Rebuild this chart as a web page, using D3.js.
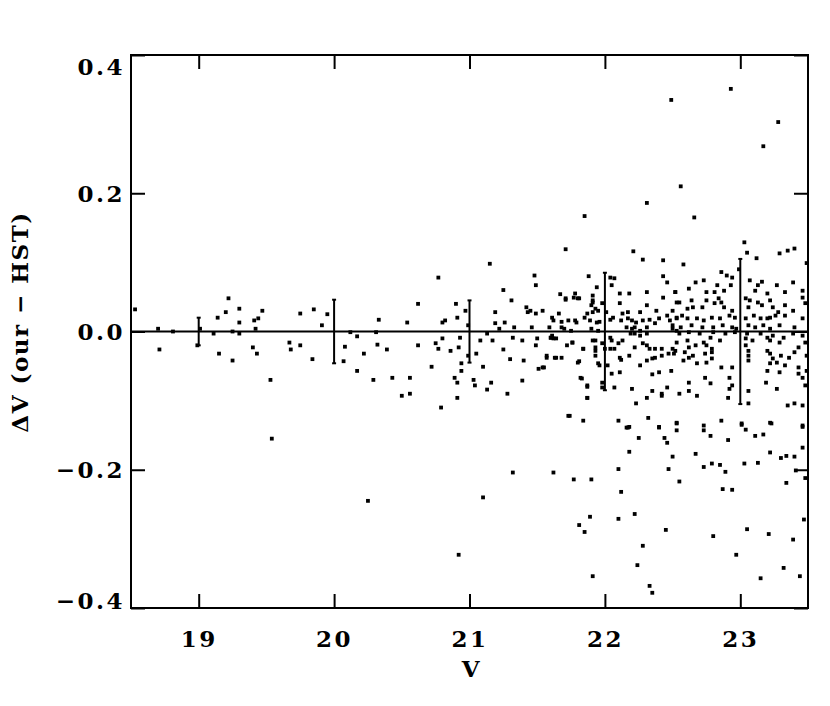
<!DOCTYPE html>
<html>
<head>
<meta charset="utf-8">
<script src="https://cdn.jsdelivr.net/npm/d3@7"></script>
<style>
  body { margin: 0; background: #fff; }
  .axis text { font-family: "DejaVu Serif", serif; font-weight: bold; font-size: 23px; letter-spacing: 2.5px; fill: #000; }
  .axis line { stroke: #000; stroke-width: 2; }
  .title { font-family: "DejaVu Serif", serif; font-weight: bold; font-size: 23px; letter-spacing: 1.5px; fill: #000; }
</style>
</head>
<body>
<svg class="chart"></svg>
<script>
const margin = {top: 55, right: 22, bottom: 98, left: 131};
const width = 830 - margin.left - margin.right;
const height = 706 - margin.top - margin.bottom;

const xTicks = [19, 20, 21, 22, 23];
const yTicks = [-0.4, -0.2, 0.0, 0.2, 0.4];

// typical errors drawn as bars on the zero line
const errV = [19, 20, 21, 22, 23];
const errSigma = [0.02, 0.046, 0.045, 0.085, 0.105];

const vBright = [18.53, 18.70, 18.71, 18.81, 19.01, 18.99, 19.11, 19.22, 19.20, 19.14, 19.15, 19.25, 19.30, 19.30, 19.25, 19.30,
  19.41, 19.44, 19.47, 19.42, 19.40, 19.43, 19.53, 19.54, 19.67, 19.68, 19.75, 19.75, 19.84, 19.85, 19.91, 19.95,
  20.08, 20.07, 20.12, 20.17, 20.17, 20.22, 20.29, 20.31, 20.32, 20.33, 20.25];
const dvBright = [0.032, 0.004, -0.026, 0.0, 0.004, -0.02, -0.003, 0.048, 0.028, 0.02, -0.032, -0.042, 0.033, 0.013, 0.0, -0.003,
  0.016, 0.019, 0.03, 0.004, -0.023, -0.032, -0.07, -0.155, -0.016, -0.026, 0.026, -0.02, -0.04, 0.032, 0.009, 0.025,
  -0.022, -0.043, -0.001, -0.007, -0.057, -0.032, -0.07, -0.001, -0.019, 0.017, -0.245];

const vMid = [20.39, 20.43, 20.50, 20.56, 20.56, 20.54, 20.62, 20.62, 20.72, 20.77, 20.79, 20.80, 20.82, 20.75, 20.77, 20.80,
  20.86, 20.91, 20.90, 20.93, 20.92, 20.94, 20.94, 20.89, 20.91, 20.91, 20.97, 20.99, 20.99, 21.03, 21.04, 21.05,
  21.08, 21.10, 21.13, 21.13, 21.15, 21.16, 21.17, 21.19, 21.19, 21.22, 21.25, 21.25, 21.26, 21.28, 21.30, 21.31,
  21.32, 21.33, 21.39, 21.39, 21.40, 21.42, 21.43, 21.45, 21.46, 21.48, 21.49, 21.49, 21.50, 21.51, 21.49, 21.55,
  21.57, 21.60, 21.62, 21.64, 21.68, 21.71, 21.72, 21.74, 21.76, 21.77, 21.78, 21.80, 21.81, 21.82, 21.87, 21.87,
  21.84, 21.91, 21.91, 21.94, 21.95, 21.91, 20.92, 21.10];
const dvMid = [-0.026, -0.067, -0.093, -0.067, -0.09, 0.013, 0.04, -0.02, -0.051, 0.078, -0.11, 0.013, 0.016, -0.017, -0.025, -0.01,
  -0.028, 0.02, 0.04, -0.009, -0.023, -0.046, -0.057, -0.067, -0.074, -0.096, 0.03, 0.009, -0.035, -0.07, -0.078, -0.032,
  -0.013, -0.051, -0.003, -0.084, 0.098, -0.074, -0.013, 0.028, 0.012, 0.004, 0.06, -0.026, 0.013, -0.09, -0.04, 0.045,
  -0.009, 0.006, -0.071, -0.013, -0.042, 0.035, 0.028, 0.03, 0.006, 0.081, 0.067, 0.026, -0.01, -0.054, -0.02, -0.052,
  -0.038, -0.009, -0.01, -0.038, 0.006, 0.046, -0.02, -0.122, -0.016, 0.049, 0.016, 0.048, -0.043, -0.067, -0.08, -0.096,
  -0.025, 0.045, 0.028, 0.013, -0.046, -0.013, -0.323, -0.24];

const v22 = [21.71, 22.21, 22.28, 22.43, 21.88, 22.04, 22.07, 22.43, 22.46, 21.94, 22.05, 22.11, 22.18, 22.31, 22.52,
  21.67, 21.71, 21.78, 21.81, 21.91, 21.91, 21.98, 22.11, 22.43, 22.53, 21.90, 21.93, 21.95, 21.54, 21.61, 21.66,
  22.01, 22.13, 22.17, 22.26, 22.31, 22.38, 22.46, 21.87, 21.62, 21.68, 21.73, 21.79, 21.85, 21.89, 21.96, 22.04,
  22.06, 22.12, 22.17, 22.20, 22.23, 22.28, 22.33, 22.37, 22.40, 22.48, 22.53, 21.59, 21.70, 21.75, 21.90, 21.95,
  22.16, 22.20, 22.22, 22.26, 22.31, 22.19, 22.22, 22.26, 22.31, 22.50, 22.53, 21.61, 21.64, 21.60, 21.76, 21.84,
  21.93, 21.93, 22.04, 22.05, 21.98, 22.00, 22.04, 22.07, 22.10, 22.13, 22.22, 22.28, 22.31, 22.33, 22.37, 22.42,
  22.47, 22.52, 21.57, 21.63, 21.68, 21.54, 21.80, 21.93, 21.93, 22.11, 22.12, 22.18, 22.26, 22.31, 22.35, 22.37,
  22.42, 21.96, 22.02, 22.05, 22.11, 22.35, 22.40, 21.83, 21.98, 21.98, 21.87, 22.07, 22.20, 22.35, 22.42, 22.46,
  21.87, 22.31, 22.42, 22.23, 21.73, 21.84, 22.10, 22.17, 22.32, 22.40, 22.53];
const dv22 = [0.119, 0.116, 0.104, 0.103, 0.08, 0.078, 0.077, 0.08, 0.071, 0.064, 0.067, 0.055, 0.055, 0.057, 0.057,
  0.054, 0.048, 0.055, 0.048, 0.052, 0.042, 0.041, 0.041, 0.049, 0.042, 0.038, 0.033, 0.03, 0.03, 0.02, 0.026,
  0.028, 0.026, 0.028, 0.028, 0.038, 0.03, 0.023, 0.026, 0.016, 0.014, 0.016, 0.013, 0.02, 0.016, 0.014, 0.017,
  0.02, 0.016, 0.019, 0.016, 0.013, 0.016, 0.017, 0.012, 0.019, 0.016, 0.019, 0.006, 0.004, 0.001, 0.004, 0.001,
  0.006, 0.004, 0.006, 0.001, 0.006, -0.003, -0.003, -0.006, -0.003, 0.004, 0.001, -0.006, -0.01, -0.009, -0.016, -0.025,
  -0.013, -0.023, -0.009, -0.013, -0.017, -0.025, -0.025, -0.025, -0.017, -0.013, -0.023, -0.017, -0.02, -0.025, -0.025, -0.025,
  -0.032, -0.028, -0.035, -0.038, -0.038, -0.052, -0.045, -0.028, -0.035, -0.038, -0.041, -0.035, -0.049, -0.042, -0.039, -0.038,
  -0.035, -0.049, -0.049, -0.061, -0.059, -0.062, -0.059, -0.068, -0.074, -0.081, -0.078, -0.081, -0.083, -0.086, -0.09, -0.081,
  -0.096, -0.096, -0.093, -0.104, -0.122, -0.129, -0.129, -0.139, -0.125, -0.139, -0.133];

const v23 = [23.03, 23.05, 23.12, 23.29, 23.35, 23.40, 23.49, 22.58, 22.86, 22.90, 22.94, 22.99, 22.73, 22.67, 22.83,
  23.07, 23.16, 23.13, 23.27, 23.39, 23.46, 22.52, 22.62, 22.75, 22.81, 22.88, 22.93, 23.11, 23.20, 23.33, 23.46,
  22.55, 22.64, 22.75, 22.84, 22.86, 23.04, 23.07, 23.13, 23.22, 22.50, 22.61, 22.65, 22.72, 22.81, 22.88, 22.94,
  23.06, 23.16, 23.24, 23.28, 23.33, 23.39, 23.48, 22.53, 22.57, 22.61, 22.68, 22.73, 22.79, 22.85, 22.92, 22.96,
  23.04, 23.10, 23.15, 23.20, 23.22, 23.26, 23.33, 23.46, 22.50, 22.56, 22.64, 22.72, 22.80, 22.87, 22.94, 22.97,
  23.06, 23.11, 23.17, 23.22, 23.29, 23.40, 22.55, 22.62, 22.70, 22.80, 22.89, 22.96, 23.05, 23.15, 23.20, 23.24,
  23.32, 23.39, 23.46, 22.53, 22.61, 22.73, 22.78, 22.85, 23.04, 23.09, 23.22, 23.29, 22.50, 22.62, 22.67, 22.75,
  22.79, 23.04, 23.06, 23.43, 23.48, 22.51, 22.59, 22.65, 22.74, 22.79, 23.06, 23.20, 23.22, 23.40, 22.58, 22.62,
  22.79, 23.06, 23.24, 23.30, 23.36, 23.49, 22.68, 22.75, 22.86, 22.94, 23.22, 23.27, 23.33, 23.43, 22.49, 23.20,
  23.29, 23.43, 23.49, 22.74, 22.78, 22.92, 22.94, 23.46, 22.62, 23.19, 22.62, 22.55, 22.68, 22.92, 23.06, 23.27,
  23.48, 22.91, 23.06, 23.35, 23.40, 23.46, 22.53, 22.73, 22.86, 23.01, 23.22, 23.46];
const dv23 = [0.129, 0.114, 0.106, 0.113, 0.117, 0.12, 0.099, 0.097, 0.086, 0.081, 0.078, 0.09, 0.074, 0.071, 0.067,
  0.074, 0.072, 0.067, 0.067, 0.071, 0.059, 0.057, 0.062, 0.057, 0.057, 0.059, 0.067, 0.059, 0.055, 0.057, 0.049,
  0.042, 0.045, 0.045, 0.048, 0.042, 0.048, 0.045, 0.042, 0.045, 0.03, 0.033, 0.035, 0.035, 0.041, 0.035, 0.03,
  0.035, 0.038, 0.035, 0.028, 0.038, 0.03, 0.041, 0.02, 0.023, 0.019, 0.019, 0.016, 0.02, 0.019, 0.023, 0.02,
  0.019, 0.023, 0.019, 0.019, 0.02, 0.023, 0.023, 0.019, 0.009, 0.006, 0.009, 0.006, 0.006, 0.009, 0.006, 0.004,
  0.009, 0.006, 0.009, 0.004, 0.009, 0.006, -0.003, -0.001, -0.003, -0.001, -0.003, -0.001, -0.003, -0.003, -0.009, -0.006,
  -0.009, -0.003, -0.006, -0.016, -0.013, -0.016, -0.009, -0.013, -0.01, -0.013, -0.013, -0.016, -0.025, -0.023, -0.02, -0.02,
  -0.025, -0.02, -0.028, -0.023, -0.016, -0.032, -0.03, -0.035, -0.032, -0.03, -0.035, -0.028, -0.032, -0.03, -0.042, -0.038,
  -0.039, -0.042, -0.039, -0.035, -0.038, -0.035, -0.046, -0.045, -0.052, -0.052, -0.046, -0.045, -0.049, -0.052, -0.057, -0.057,
  -0.059, -0.061, -0.057, -0.067, -0.075, -0.067, -0.078, -0.067, -0.074, -0.074, -0.086, -0.09, -0.093, -0.083, -0.086, -0.083,
  -0.078, -0.096, -0.104, -0.107, -0.104, -0.107, -0.132, -0.136, -0.129, -0.133, -0.132, -0.136];

const vFaint = [21.32, 21.62, 21.77, 21.90, 22.16, 22.18, 22.25, 22.18, 22.10, 22.12, 21.89, 21.81, 21.85, 21.91, 22.10,
  22.22, 22.28, 22.24, 22.33, 22.35, 22.40, 22.44, 22.46, 22.50, 22.47, 22.45, 22.55, 22.53, 22.67, 22.73, 22.73,
  22.78, 22.79, 22.80, 22.85, 22.89, 22.87, 22.94, 22.91, 22.97, 23.01, 23.04, 23.03, 23.05, 23.11, 23.17, 23.13,
  23.22, 23.30, 23.34, 23.40, 23.21, 23.15, 23.34, 23.39, 23.32, 23.44, 23.46, 23.46, 23.41, 23.48, 23.47, 23.23];
const dvFaint = [-0.204, -0.204, -0.214, -0.214, -0.139, -0.138, -0.154, -0.174, -0.199, -0.232, -0.268, -0.28, -0.29, -0.354, -0.271,
  -0.264, -0.31, -0.338, -0.368, -0.378, -0.138, -0.154, -0.161, -0.181, -0.199, -0.287, -0.217, -0.143, -0.177, -0.143, -0.196,
  -0.151, -0.191, -0.296, -0.193, -0.203, -0.228, -0.229, -0.157, -0.323, -0.135, -0.142, -0.191, -0.286, -0.151, -0.149, -0.19,
  -0.175, -0.183, -0.18, -0.181, -0.293, -0.357, -0.219, -0.301, -0.342, -0.354, -0.138, -0.168, -0.201, -0.212, -0.272, -0.133];

const vHigh = [22.49, 22.93, 23.28, 23.17, 22.56, 22.31, 21.85, 22.66];
const dvHigh = [0.335, 0.351, 0.303, 0.268, 0.21, 0.186, 0.167, 0.165];

const vAll = [...vBright, ...vMid, ...v22, ...v23, ...vFaint, ...vHigh];
const dvAll = [...dvBright, ...dvMid, ...dv22, ...dv23, ...dvFaint, ...dvHigh];
const points = vAll.map((v, i) => ({v: v, dv: dvAll[i]}));

const x = d3.scaleLinear().domain([18.5, 23.5]).range([0, width]);
const y = d3.scaleLinear().domain([-0.4, 0.4]).range([height, 0]);

const svg = d3.select('.chart')
    .attr('width', 830)
    .attr('height', 706);

const chart = svg.append('g')
    .attr('transform', `translate(${ margin.left },${ margin.top })`);

// zero line
chart.append('line')
    .attr('x1', 0).attr('x2', width)
    .attr('y1', y(0)).attr('y2', y(0))
    .attr('stroke', '#000').attr('stroke-width', 2);

// error bars
const bars = chart.selectAll('.err')
    .data(errV.map((v, i) => ({v: v, s: errSigma[i]})))
  .enter().append('g')
    .attr('class', 'err');

bars.append('line')
    .attr('x1', (d) => x(d.v)).attr('x2', (d) => x(d.v))
    .attr('y1', (d) => y(d.s)).attr('y2', (d) => y(-d.s))
    .attr('stroke', '#000').attr('stroke-width', 2);

bars.selectAll('.cap')
    .data((d) => [[d.v, d.s], [d.v, -d.s]])
  .enter().append('line')
    .attr('x1', (d) => x(d[0]) - 2).attr('x2', (d) => x(d[0]) + 2)
    .attr('y1', (d) => y(d[1])).attr('y2', (d) => y(d[1]))
    .attr('stroke', '#000').attr('stroke-width', 2);

// data points
chart.selectAll('.pt')
    .data(points)
  .enter().append('rect')
    .attr('class', 'pt')
    .attr('x', (d) => x(d.v) - 1.9)
    .attr('y', (d) => y(d.dv) - 1.9)
    .attr('width', 3.8)
    .attr('height', 3.8)
    .attr('fill', '#000');

// axes with inward ticks on all four sides
chart.append('g')
    .attr('class', 'axis')
    .attr('transform', `translate(0,${ height })`)
    .call(d3.axisBottom(x).tickValues(xTicks).tickSize(-14).tickPadding(23).tickFormat(d3.format('d')));

chart.append('g')
    .attr('class', 'axis')
    .call(d3.axisTop(x).tickValues(xTicks).tickSize(-14).tickFormat(''));

const yAxis = chart.append('g')
    .attr('class', 'axis')
    .call(d3.axisLeft(y).tickValues(yTicks).tickSize(-14).tickPadding(6)
      .tickFormat((d) => d3.format('.1f')(d).replace('-', '\u2212')));

chart.append('g')
    .attr('class', 'axis')
    .attr('transform', `translate(${ width },0)`)
    .call(d3.axisRight(y).tickValues(yTicks).tickSize(-14).tickFormat(''));

chart.selectAll('.axis .domain').remove();

// nudge the end labels inside the frame, as in the original
yAxis.selectAll('.tick text')
    .attr('dy', (d) => d === 0.4 ? '0.85em' : d === -0.4 ? '0' : '0.35em');

// frame
chart.append('rect')
    .attr('width', width)
    .attr('height', height)
    .attr('fill', 'none')
    .attr('stroke', '#000')
    .attr('stroke-width', 2);

svg.append('text')
    .attr('class', 'title')
    .attr('x', margin.left + width / 2 + 2)
    .attr('y', 677)
    .attr('text-anchor', 'middle')
    .text('V');

svg.append('text')
    .attr('class', 'title')
    .attr('transform', 'translate(28,322) rotate(-90)')
    .attr('text-anchor', 'middle')
    .text('\u0394V (our \u2212 HST)');
</script>
</body>
</html>
